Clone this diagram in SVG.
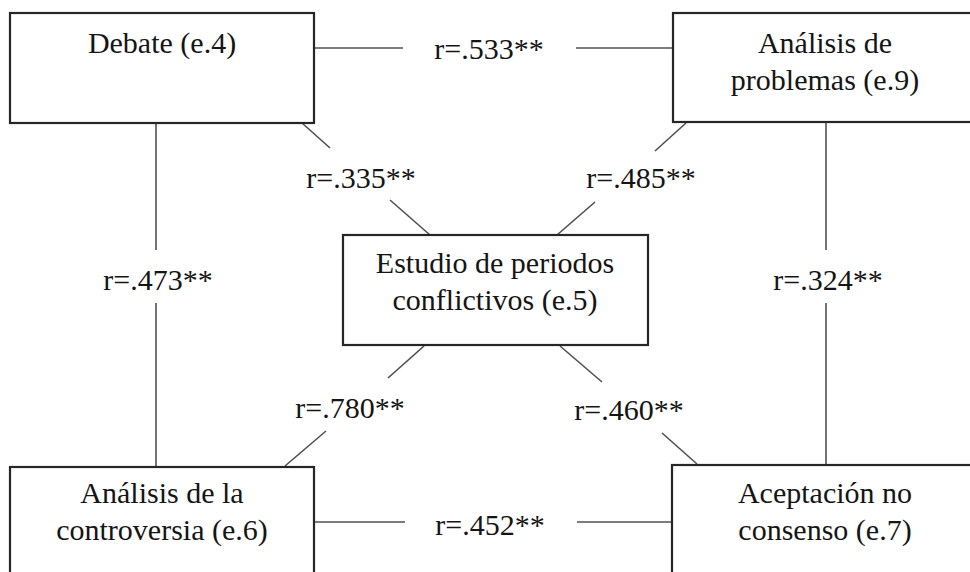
<svg xmlns="http://www.w3.org/2000/svg" width="970" height="572" viewBox="0 0 970 572">
<style>
.box{fill:#fff;stroke:#262626;stroke-width:2.2}
.ln{stroke:#505050;stroke-width:1.6;fill:none}
text{font-family:"Liberation Serif","Times New Roman",serif;font-size:30px;fill:#151515;text-anchor:middle}
</style>
<rect width="970" height="572" fill="#fff"/>
<g id="connectors">
<line class="ln" x1="314" y1="48" x2="403" y2="48"/>
<line class="ln" x1="576" y1="48" x2="673" y2="48"/>
<text x="489" y="59">r=.533**</text>
<line class="ln" x1="156" y1="123" x2="156" y2="250"/>
<line class="ln" x1="156" y1="303" x2="156" y2="467"/>
<text x="158" y="290">r=.473**</text>
<line class="ln" x1="826" y1="122" x2="826" y2="250"/>
<line class="ln" x1="826" y1="303" x2="826" y2="465"/>
<text x="828" y="290">r=.324**</text>
<line class="ln" x1="314" y1="522" x2="405" y2="522"/>
<line class="ln" x1="577" y1="522" x2="672" y2="522"/>
<text x="490" y="535">r=.452**</text>
<line class="ln" x1="302" y1="123" x2="330" y2="148"/>
<line class="ln" x1="390" y1="200" x2="430" y2="235"/>
<text x="361" y="188">r=.335**</text>
<line class="ln" x1="686" y1="123" x2="655" y2="151"/>
<line class="ln" x1="595" y1="202" x2="557" y2="235"/>
<text x="641" y="188">r=.485**</text>
<line class="ln" x1="424" y1="346" x2="388" y2="378"/>
<line class="ln" x1="326" y1="431" x2="285" y2="466"/>
<text x="350" y="418">r=.780**</text>
<line class="ln" x1="560" y1="346" x2="602" y2="382"/>
<line class="ln" x1="662" y1="433" x2="697" y2="464"/>
<text x="629" y="420">r=.460**</text>
</g>
<g id="debate">
<rect class="box" x="10" y="13" width="304" height="110"/>
<text x="162" y="53">Debate (e.4)</text>
</g>
<g id="problemas">
<rect class="box" x="673" y="13" width="305" height="109"/>
<text x="825" y="53">Análisis de</text>
<text x="825" y="90">problemas (e.9)</text>
</g>
<g id="estudio">
<rect class="box" x="343" y="235" width="305" height="110"/>
<text x="495" y="273">Estudio de periodos</text>
<text x="495" y="310">conflictivos (e.5)</text>
</g>
<g id="controversia">
<rect class="box" x="10" y="467" width="304" height="112"/>
<text x="162" y="503">Análisis de la</text>
<text x="162" y="540">controversia (e.6)</text>
</g>
<g id="aceptacion">
<rect class="box" x="672" y="465" width="306" height="114"/>
<text x="825" y="503">Aceptación no</text>
<text x="825" y="540">consenso (e.7)</text>
</g>
</svg>
